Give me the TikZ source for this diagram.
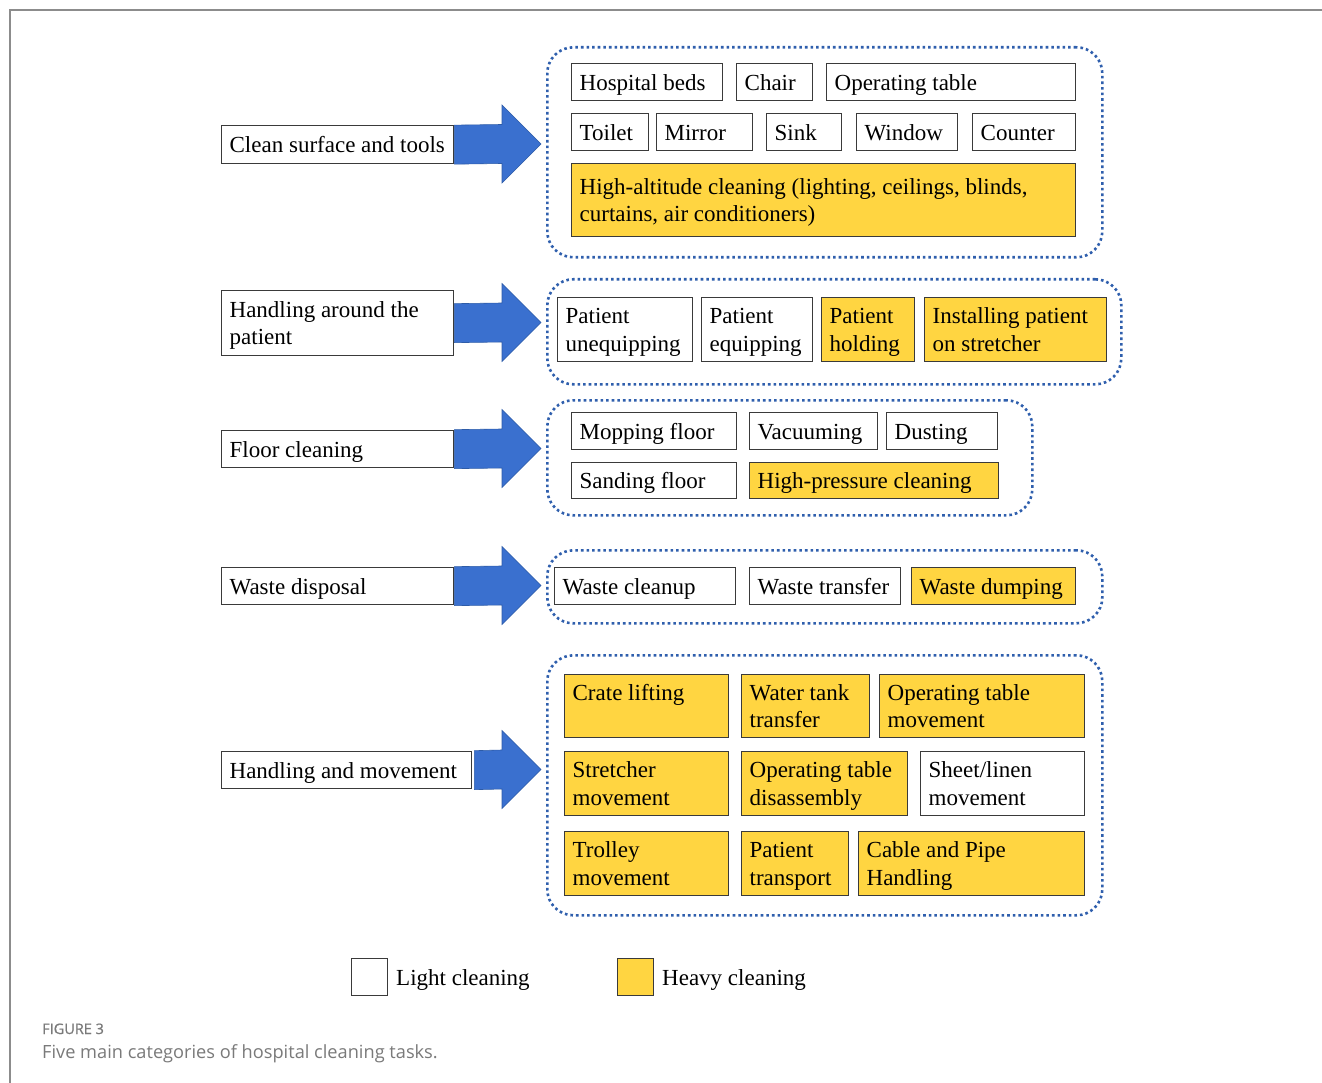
\documentclass[tikz,border=0pt]{standalone}
\usepackage{fontspec}
\usepackage{array}
\setmainfont{Liberation Serif}
\newfontfamily\capfont{Open Sans}
\newfontfamily\capfontb[FakeBold=0.8]{Open Sans}
\usetikzlibrary{calc}
\definecolor{heavy}{HTML}{FFD541}
\definecolor{arrowfill}{HTML}{3A70CF}
\definecolor{arrowline}{HTML}{2E5CA8}
\definecolor{dotblue}{HTML}{2F5FAD}
\definecolor{boxline}{HTML}{3A3A3A}
\definecolor{framegray}{HTML}{8C8C8C}
\definecolor{capgray}{HTML}{7A7A7A}
\newcommand\tlstrut{\rule[-5.75pt]{0pt}{27.5pt}}
\tikzset{
  task/.style={draw=boxline, line width=1.3pt, anchor=north west, inner xsep=8pt, inner ysep=0pt,
    font=\fontsize{23}{27.5}\selectfont},
  grp/.style={draw=dotblue, line width=2.6pt, dash pattern=on 2.6pt off 3pt, rounded corners=26pt,
    anchor=north west, inner sep=0pt},
  bigarrow/.style={fill=arrowfill, draw=arrowline, line width=0.6pt},
  legtext/.style={anchor=base west, inner sep=0pt, font=\fontsize{23}{27.5}\selectfont},
}
\newcommand\tbox[7]{%
  \pgfmathsetmacro\tbw{#4-16}%
  \node[task, fill=#6, minimum width=#4, minimum height=#5] (#1) at (#2,#3)
    {\makebox[\tbw pt][l]{\def\arraystretch{0}\begin{tabular}{@{}>{\tlstrut}l@{}}#7\end{tabular}}};}
\newcommand\blockarrow[3]{% start node, tip coordinate, extra gap
  \path[bigarrow] ($(#1.east)+(#3,19.5)$) -- ($(#2)+(-39,19.5)$) -- ($(#2)+(-39,39)$) -- (#2)
    -- ($(#2)+(-39,-39)$) -- ($(#2)+(-39,-19.5)$) -- ($(#1.east)+(#3,-19.5)$) -- cycle;}
\begin{document}
\begin{tikzpicture}[x=1pt,y=-1pt]
\useasboundingbox[fill=white] (0,0) rectangle (1322,1083);
\draw[framegray, line width=2pt] (1322,10) -- (10,10) -- (10,1083);

% groups
\node[grp, minimum width=555, minimum height=210] (g1) at (546,46) {};
\node[grp, minimum width=574, minimum height=105] (g2) at (546,278) {};
\node[grp, minimum width=485, minimum height=115] (g3) at (546,399) {};
\node[grp, minimum width=555, minimum height=73] (g4) at (546,549) {};
\node[grp, minimum width=555, minimum height=260] (g5) at (546,654) {};

% categories
\tbox{c1}{221}{125}{232}{38}{white}{Clean surface and tools}
\tbox{c2}{221}{290}{232}{65}{white}{Handling around the\\patient}
\tbox{c3}{221}{430}{232}{37}{white}{Floor cleaning}
\tbox{c4}{221}{567}{232}{37}{white}{Waste disposal}
\tbox{c5}{221}{751}{250}{37}{white}{Handling and movement}

% arrow tips
\coordinate (t1) at (541,144);
\coordinate (t2) at (541,322.5);
\coordinate (t3) at (541,448.5);
\coordinate (t4) at (541,585.5);
\coordinate (t5) at (541,769.5);
\blockarrow{c1}{t1}{0}
\blockarrow{c2}{t2}{0}
\blockarrow{c3}{t3}{0}
\blockarrow{c4}{t4}{0}
\blockarrow{c5}{t5}{2}

% group 1
\tbox{hb}{571}{63}{151}{37}{white}{Hospital beds}
\tbox{chair}{736}{63}{76}{37}{white}{Chair}
\tbox{optab}{826}{63}{249}{37}{white}{Operating table}
\tbox{toilet}{571}{113}{77}{37}{white}{Toilet}
\tbox{mirror}{656}{113}{96}{37}{white}{Mirror}
\tbox{sink}{766}{113}{75}{37}{white}{Sink}
\tbox{window}{856}{113}{101}{37}{white}{Window}
\tbox{counter}{972}{113}{103}{37}{white}{Counter}
\tbox{high}{571}{163}{504}{73}{heavy}{High-altitude cleaning (lighting, ceilings, blinds,\\curtains, air conditioners)}

% group 2
\tbox{pu}{557}{297}{135}{64}{white}{Patient\\unequipping}
\tbox{pe}{701}{297}{111}{64}{white}{Patient\\equipping}
\tbox{ph}{821}{297}{93}{64}{heavy}{Patient\\holding}
\tbox{ips}{924}{297}{182}{64}{heavy}{Installing patient\\on stretcher}

% group 3
\tbox{mop}{571}{412}{165}{37}{white}{Mopping floor}
\tbox{vac}{749}{412}{128}{37}{white}{Vacuuming}
\tbox{dust}{886}{412}{111}{37}{white}{Dusting}
\tbox{sand}{571}{462}{165}{36}{white}{Sanding floor}
\tbox{hpc}{749}{462}{249}{36}{heavy}{High-pressure cleaning}

% group 4
\tbox{wc}{554}{567}{181}{37}{white}{Waste cleanup}
\tbox{wt}{749}{567}{151}{37}{white}{Waste transfer}
\tbox{wd}{911}{567}{164}{37}{heavy}{Waste dumping}

% group 5
\tbox{crate}{564}{674}{164}{63}{heavy}{Crate lifting\\ \mbox{}}
\tbox{water}{741}{674}{128}{63}{heavy}{Water tank\\transfer}
\tbox{otm}{879}{674}{205}{63}{heavy}{Operating table\\movement}
\tbox{strm}{564}{751}{164}{64}{heavy}{Stretcher\\movement}
\tbox{otd}{741}{751}{166}{64}{heavy}{Operating table\\disassembly}
\tbox{sheet}{920}{751}{164}{64}{white}{Sheet/linen\\movement}
\tbox{trol}{564}{831}{164}{64}{heavy}{Trolley\\movement}
\tbox{ptr}{741}{831}{107}{64}{heavy}{Patient\\transport}
\tbox{cable}{858}{831}{226}{64}{heavy}{Cable and Pipe\\Handling}

% legend
\tbox{lw}{351}{958}{36}{37}{white}{}
\node[legtext] (lwt) at (396,985) {Light cleaning};
\tbox{lh}{617}{958}{36}{37}{heavy}{}
\node[legtext] (lht) at (662,985) {Heavy cleaning};

% caption
\node[anchor=base west, inner sep=0pt, text=capgray, font=\capfontb\fontsize{14.5}{18}\selectfont] (figno) at (42,1034) {FIGURE 3};
\node[anchor=base west, inner sep=0pt, text=capgray, font=\capfont\fontsize{18.2}{22}\selectfont] (figcap) at (42,1058) {Five main categories of hospital cleaning tasks.};
\end{tikzpicture}
\end{document}
